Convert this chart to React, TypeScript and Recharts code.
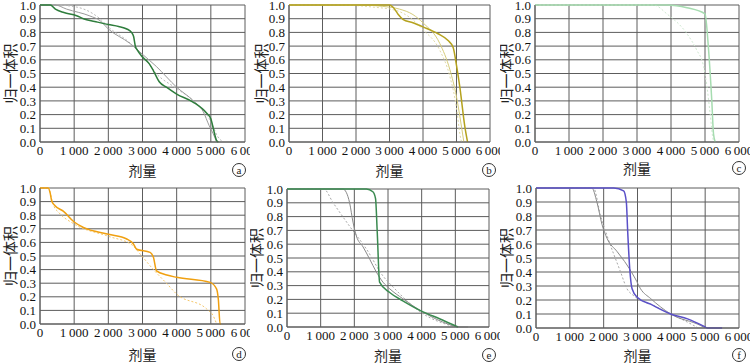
import { CartesianGrid, Line, LineChart, XAxis, YAxis } from 'recharts';

// dose ticks / volume ticks shared by all six panels
const doseTicks = [0, 1000, 2000, 3000, 4000, 5000, 6000];
const volTicks = [0, 0.1, 0.2, 0.3, 0.4, 0.5, 0.6, 0.7, 0.8, 0.9, 1.0];

// (a)
const aMain = [[0, 1], [300, 1], [450, 0.97], [700, 0.945], [1070, 0.922], [1270, 0.9], [1600, 0.88], [2000, 0.857], [2300, 0.843], [2540, 0.825], [2680, 0.8], [2740, 0.77], [2790, 0.7], [2850, 0.67], [3000, 0.62], [3200, 0.57], [3320, 0.52], [3490, 0.44], [3700, 0.4], [4000, 0.35], [4490, 0.29], [4880, 0.21], [5000, 0.17], [5080, 0.09], [5170, 0.01], [5220, 0]];
const aGray = [[0, 1], [440, 1], [780, 0.97], [1460, 0.92], [1760, 0.885], [2000, 0.825], [2630, 0.72], [3000, 0.64], [3410, 0.55], [4000, 0.4], [4490, 0.3], [4780, 0.22], [4950, 0.12], [5070, 0.06], [5170, 0]];
const aDot = [[0, 1], [440, 1], [1070, 0.985], [1560, 0.935], [1800, 0.89], [2000, 0.84], [2600, 0.73], [3000, 0.63], [3400, 0.5], [4000, 0.39], [4500, 0.3], [5000, 0.15], [5200, 0.04], [5360, 0]];

// (b)
const bMain = [[0, 1], [3000, 1], [3100, 0.985], [3250, 0.935], [3400, 0.895], [3700, 0.87], [4000, 0.84], [4450, 0.79], [4750, 0.74], [4900, 0.69], [5000, 0.56], [5100, 0.4], [5250, 0.11], [5330, 0]];
const bLight = [[0, 1], [2150, 1], [2800, 0.99], [3300, 0.97], [3700, 0.93], [4000, 0.87], [4500, 0.72], [4800, 0.53], [5000, 0.33], [5150, 0.11], [5220, 0]];
const bDot = [[0, 1], [1500, 1], [2500, 0.985], [3200, 0.96], [3600, 0.91], [4000, 0.82], [4500, 0.67], [4800, 0.48], [5000, 0.25], [5100, 0.06], [5150, 0]];

// (c)
const cMain = [[0, 1], [3880, 1], [4470, 0.98], [5000, 0.935], [5100, 0.69], [5200, 0.3], [5250, 0.06], [5300, 0]];
const cDot = [[0, 1], [3490, 1], [3880, 0.935], [4470, 0.79], [4760, 0.67], [4960, 0.55], [5060, 0.4], [5150, 0.21], [5250, 0.01], [5300, 0]];

// (d)
const dMain = [[0, 1], [240, 1], [300, 0.96], [340, 0.907], [440, 0.87], [680, 0.83], [1000, 0.75], [1270, 0.71], [2000, 0.66], [2540, 0.625], [2730, 0.59], [2830, 0.55], [3220, 0.527], [3320, 0.49], [3410, 0.39], [3710, 0.36], [4000, 0.343], [4980, 0.306], [5170, 0.257], [5220, 0.18], [5270, 0], [5300, 0]];
const dLight = [[0, 1], [260, 1], [330, 0.93], [400, 0.87], [550, 0.82], [1000, 0.735], [2000, 0.645], [2700, 0.58], [2930, 0.515], [3320, 0.4], [3700, 0.3], [4000, 0.22], [4880, 0.11], [5070, 0.06], [5170, 0]];

// (e)
const eMain = [[0, 1], [2360, 1], [2550, 0.98], [2630, 0.93], [2680, 0.69], [2750, 0.325], [3050, 0.25], [3440, 0.19], [4040, 0.11], [4530, 0.06], [5080, 0]];
const eGray = [[0, 1], [1660, 1], [1760, 0.976], [1860, 0.9], [1960, 0.76], [2060, 0.66], [2260, 0.58], [2460, 0.49], [2650, 0.4], [2850, 0.325], [3050, 0.277], [3440, 0.205], [4040, 0.108], [4630, 0.036], [5130, 0], [5380, 0]];
const eDot = [[0, 1], [1090, 1], [1370, 0.9], [1860, 0.73], [2360, 0.565], [2850, 0.37], [3150, 0.29], [4040, 0.096], [4830, 0.012], [5000, 0]];

// (f)
const fMain = [[0, 1], [2300, 1], [2590, 0.98], [2670, 0.9], [2710, 0.69], [2770, 0.425], [2840, 0.28], [2990, 0.22], [3390, 0.17], [3980, 0.1], [4480, 0.065], [4970, 0.012], [5070, 0], [5500, 0]];
const fGray = [[0, 1], [1650, 1], [1800, 0.9], [1950, 0.74], [2100, 0.64], [2400, 0.545], [2690, 0.45], [2940, 0.35], [3090, 0.28], [3390, 0.21], [3980, 0.1], [4870, 0.017], [5000, 0]];
const fDot = [[0, 1], [1700, 1], [1900, 0.81], [2100, 0.66], [2500, 0.4], [2690, 0.28], [2890, 0.23], [3480, 0.16], [4080, 0.09], [4670, 0.017], [4800, 0]];

const toPts = (arr: number[][]) => arr.map(([x, y]) => ({ x, y }));

type Series = { data: number[][]; color: string; width: number; dash?: string };
type PanelProps = {
  left: number; top: number; h: number;
  x0: number; x1: number; y0: number; y1: number;
  labelX: number; titleY: number;
  letter: string; series: Series[];
};

const serif = '"Liberation Serif", "DejaVu Serif", serif';
const cjk = '"Noto Sans CJK SC", sans-serif';

function Panel({ left, top, h, x0, x1, y0, y1, labelX, titleY, letter, series }: PanelProps) {
  const w = 250;
  const midY = (y0 + y1) / 2;
  const midX = (x0 + x1) / 2;
  return (
    <div style={{ position: 'absolute', left, top, width: w, height: h, overflow: 'hidden', fontFamily: serif }}>
      <LineChart width={w} height={h} margin={{ top: y0, right: w - x1, left: 0, bottom: 0 }} style={{ fontFamily: serif }}>
        <CartesianGrid stroke="#5c5c5c" strokeWidth={1} />
        <XAxis
          type="number" dataKey="x" domain={[0, 6000]} ticks={doseTicks} interval={0} height={h - y1}
          tickSize={0} tickMargin={4} axisLine={{ stroke: '#5c5c5c' }}
          tick={{ fill: '#111', fontSize: 13, fontFamily: serif }}
          tickFormatter={(v: number) => (v >= 1000 ? `${Math.floor(v / 1000)}\u2009000` : `${v}`)}
        />
        <YAxis
          type="number" dataKey="y" domain={[0, 1]} ticks={volTicks} interval={0} width={x0}
          tickSize={0} tickMargin={4} axisLine={{ stroke: '#5c5c5c' }}
          tick={{ fill: '#111', fontSize: 13, fontFamily: serif }}
          tickFormatter={(v: number) => v.toFixed(1)}
        />
        {series.map((s, i) => (
          <Line
            key={i} data={toPts(s.data)} dataKey="y" type="monotone" stroke={s.color}
            strokeWidth={s.width} strokeDasharray={s.dash} dot={false} activeDot={false}
            isAnimationActive={false}
          />
        ))}
      </LineChart>
      <svg width={w} height={h} style={{ position: 'absolute', left: 0, top: 0, pointerEvents: 'none' }}>
        <text x={labelX} y={midY} transform={`rotate(-90 ${labelX} ${midY})`} textAnchor="middle" dominantBaseline="central"
          fontFamily={cjk} fontSize={15} fill="#222">归一体积</text>
        <text x={midX} y={titleY} textAnchor="middle" dominantBaseline="central"
          fontFamily={cjk} fontSize={14} fill="#222">剂量</text>
        <circle cx={w - 11} cy={titleY} r={6.5} fill="none" stroke="#333" strokeWidth={1} />
        <text x={w - 11} y={titleY} textAnchor="middle" dominantBaseline="central"
          fontFamily={serif} fontSize={11} fill="#222">{letter}</text>
      </svg>
    </div>
  );
}

export default function App() {
  return (
    <div style={{ position: 'absolute', left: 0, top: 0, width: 750, height: 363, background: '#fff' }}>
      <Panel left={0} top={0} h={182} x0={40} x1={245} y0={5} y1={142} labelX={9} titleY={170} letter="a" series={[
        { data: aDot, color: '#b8b8b8', width: 1, dash: '2 2' },
        { data: aGray, color: '#9a9a9a', width: 1 },
        { data: aMain, color: '#2e7d3c', width: 1.5 },
      ]} />
      <Panel left={250} top={0} h={182} x0={39} x1={240} y0={5} y1={142} labelX={10} titleY={170} letter="b" series={[
        { data: bDot, color: '#e0d9a6', width: 1, dash: '2 2' },
        { data: bLight, color: '#d6cc7a', width: 1 },
        { data: bMain, color: '#b5a21e', width: 1.5 },
      ]} />
      <Panel left={500} top={0} h={182} x0={35} x1={239} y0={5} y1={142} labelX={5} titleY={168} letter="c" series={[
        { data: cDot, color: '#cfe8d0', width: 1, dash: '2 2' },
        { data: cMain, color: '#a6dcb0', width: 1.5 },
      ]} />
      <Panel left={0} top={182} h={181} x0={40} x1={245} y0={6} y1={142} labelX={9} titleY={172} letter="d" series={[
        { data: dLight, color: '#f5c76a', width: 1, dash: '2 2' },
        { data: dMain, color: '#f0a010', width: 1.5 },
      ]} />
      <Panel left={250} top={182} h={181} x0={37} x1={239} y0={7} y1={145} labelX={5} titleY={173} letter="e" series={[
        { data: eDot, color: '#a8a8a8', width: 1, dash: '2 2' },
        { data: eGray, color: '#8a8a8a', width: 1 },
        { data: eMain, color: '#3a8a50', width: 1.5 },
      ]} />
      <Panel left={500} top={182} h={181} x0={36} x1={239} y0={6} y1={146} labelX={5} titleY={173} letter="f" series={[
        { data: fDot, color: '#a8a8a8', width: 1, dash: '2 2' },
        { data: fGray, color: '#8a8a8a', width: 1 },
        { data: fMain, color: '#5a50c8', width: 1.5 },
      ]} />
    </div>
  );
}
